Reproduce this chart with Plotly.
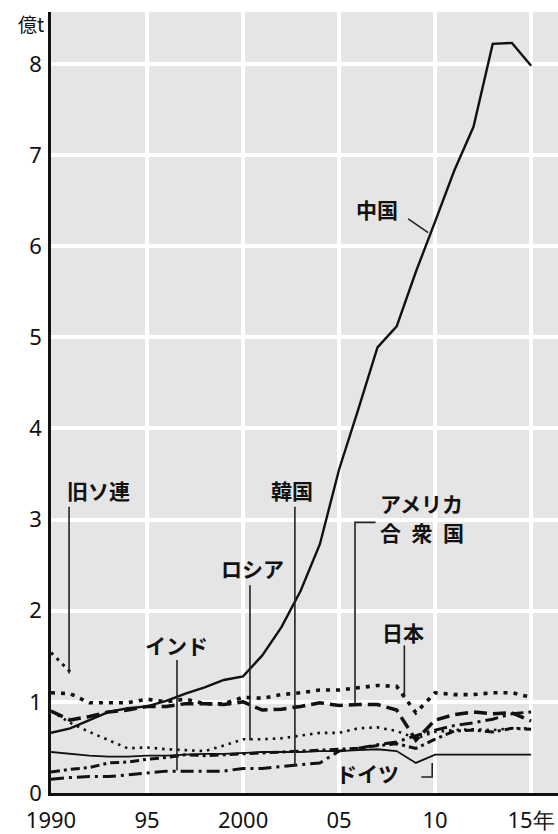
import plotly.graph_objects as go

years = list(range(1990, 2016))

china = [0.66, 0.71, 0.80, 0.89, 0.93, 0.95, 1.01, 1.09, 1.16, 1.24, 1.28, 1.51, 1.82, 2.22, 2.73,
         3.55, 4.21, 4.89, 5.12, 5.72, 6.27, 6.83, 7.31, 8.22, 8.23, 7.98]
japan = [1.10, 1.09, 0.99, 0.99, 0.99, 1.03, 1.00, 1.03, 0.98, 0.98, 1.05, 1.04, 1.08, 1.10, 1.13,
         1.13, 1.16, 1.18, 1.17, 0.88, 1.10, 1.08, 1.08, 1.10, 1.10, 1.05]
usa = [0.90, 0.80, 0.84, 0.89, 0.91, 0.95, 0.95, 0.98, 0.98, 0.97, 1.00, 0.91, 0.92, 0.95, 0.99,
       0.96, 0.97, 0.97, 0.91, 0.58, 0.80, 0.86, 0.89, 0.87, 0.88, 0.79]
russia = [0.90, 0.77, 0.67, 0.58, 0.49, 0.50, 0.48, 0.47, 0.46, 0.52, 0.59, 0.59, 0.60, 0.63, 0.66,
          0.66, 0.71, 0.72, 0.68, 0.60, 0.67, 0.69, 0.70, 0.69, 0.71, 0.71]
ussr_years = [1990, 1991]
ussr = [1.54, 1.33]
india = [0.15, 0.17, 0.18, 0.18, 0.20, 0.22, 0.24, 0.24, 0.24, 0.24, 0.27, 0.27, 0.29, 0.31, 0.33,
         0.46, 0.49, 0.53, 0.56, 0.63, 0.69, 0.74, 0.77, 0.81, 0.87, 0.89]
korea = [0.23, 0.26, 0.28, 0.33, 0.34, 0.37, 0.39, 0.42, 0.41, 0.42, 0.43, 0.44, 0.45, 0.46, 0.47,
         0.48, 0.49, 0.52, 0.54, 0.49, 0.59, 0.68, 0.69, 0.67, 0.71, 0.70]
germany = [0.45, 0.43, 0.41, 0.40, 0.40, 0.41, 0.41, 0.42, 0.43, 0.43, 0.44, 0.45, 0.45, 0.45, 0.46,
           0.46, 0.47, 0.48, 0.46, 0.33, 0.42, 0.42, 0.42, 0.42, 0.42, 0.42]

x_tickvals = [1990, 1995, 2000, 2005, 2010, 2015]
x_ticktext = ["1990", "95", "2000", "05", "10", "15年"]
y_tickvals = [0, 1, 2, 3, 4, 5, 6, 7, 8]

# label text, label position (year, value)
labels = [
    ("中国", 2006.98, 6.41),
    ("旧ソ連", 1992.45, 3.33),
    ("韓国", 2002.55, 3.33),
    ("ロシア", 2000.5, 2.47),
    ("インド", 1996.56, 1.62),
    ("アメリカ", 2009.3, 3.18),
    ("合\u2002衆\u2002国", 2009.3, 2.86),
    ("日本", 2008.33, 1.77),
    ("ドイツ", 2006.46, 0.22),
]
# leader polylines (years, values)
leaders = [
    ([2008.6, 2009.64], [6.30, 6.15]),
    ([1990.94, 1990.94], [3.14, 1.31]),
    ([2002.7, 2002.7], [3.14, 0.30]),
    ([2000.36, 2000.36], [2.28, 0.58]),
    ([1996.56, 1996.56], [1.46, 0.25]),
    ([2006.9, 2005.83, 2005.83], [2.97, 2.97, 0.97]),
    ([2008.4, 2008.4], [1.62, 1.05]),
    ([2009.28, 2009.85, 2009.85], [0.176, 0.176, 0.33]),
]

fig = go.Figure()

def add(xs, ys, width, dash):
    fig.add_trace(go.Scatter(x=xs, y=ys, mode="lines",
                             line=dict(color="#111111", width=width, dash=dash),
                             hoverinfo="skip", showlegend=False))

add(years, germany, 1.8, "solid")
add(years, india, 3, "13px,5px,3px,5px")
add(years, korea, 3, "9px,4px,3px,4px")
add(years, russia, 2.6, "2.5px,5px")
add(ussr_years, ussr, 3, "3px,5px")
add(years, usa, 3.5, "13px,6px")
add(years, japan, 3.6, "4px,6px")
add(years, china, 2.4, "solid")

for xs, ys in leaders:
    fig.add_trace(go.Scatter(x=xs, y=ys, mode="lines",
                             line=dict(color="#222222", width=1.6),
                             hoverinfo="skip", showlegend=False))

for text, lx, ly in labels:
    fig.add_annotation(x=lx, y=ly, xref="x", yref="y", text=text, showarrow=False,
                       font=dict(family="Noto Sans CJK JP", size=21, color="#111111", weight="bold"))

fig.add_annotation(x=-0.01, y=0.985, xref="paper", yref="paper", text="億t", showarrow=False,
                   xanchor="right", yanchor="middle",
                   font=dict(family="Noto Sans CJK JP", size=19, color="#111111"))

fig.update_layout(
    width=558, height=834,
    margin=dict(l=51, r=0, t=12, b=41),
    paper_bgcolor="white",
    plot_bgcolor="#e5e5e5",
    showlegend=False,
    xaxis=dict(range=[1990, 2016.4], tickvals=x_tickvals, ticktext=x_ticktext,
               showgrid=True, gridcolor="white", gridwidth=4,
               showline=True, linecolor="#111111", linewidth=2.5,
               ticks="", ticklabelstandoff=6,
               tickfont=dict(family="Noto Sans", size=22, color="#111111"),
               zeroline=False, fixedrange=True),
    yaxis=dict(range=[0, 8.57], tickvals=y_tickvals,
               showgrid=True, gridcolor="white", gridwidth=4,
               showline=True, linecolor="#111111", linewidth=2.5,
               ticks="", ticklabelstandoff=2,
               tickfont=dict(family="Noto Sans", size=22, color="#111111"),
               zeroline=False, fixedrange=True),
)

fig.write_html("out.html", config={"displayModeBar": False},
               post_script="document.body.style.margin='0';document.body.style.overflow='hidden';")
